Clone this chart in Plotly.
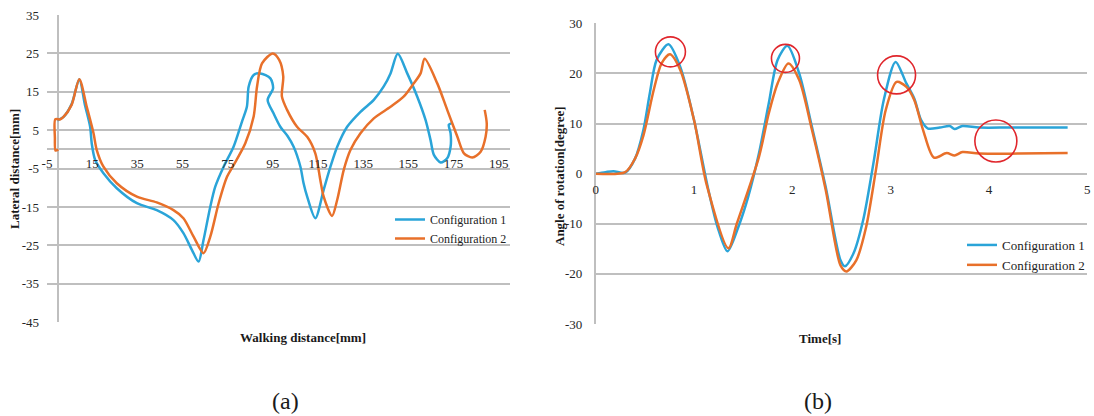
import plotly.graph_objects as go

W, H = 1094, 416

# ---- Panel (a): lateral distance vs walking distance ----
walk_c1 = [-0.4, 2.2, 5.9, 9.3, 11.8, 14.1, 14.8, 16.3, 20.0, 25.9, 34.8, 43.6, 51.0, 55.4,
           59.2, 62.1, 64.3, 67.3, 69.5, 73.2, 77.6, 81.3, 83.5, 84.3, 86.5, 89.4, 93.9, 95.1,
           92.7, 95.3, 98.3, 101.5, 104.2, 107.2, 108.6, 110.2, 113.8, 117.5, 120.5, 123.5,
           127.9, 133.8, 139.7, 144.1, 147.1, 150.3, 154.5, 158.9, 162.6, 164.8, 166.3, 169.3,
           172.2, 173.7, 173.7, 172.9, 174.0]
lat_c1 = [7.6, 8.4, 11.8, 18.3, 11.6, 5.9, 1.6, -2.7, -6.2, -10.1, -14.0, -15.8, -18.4, -21.8,
          -26.2, -29.2, -23.6, -14.9, -9.7, -4.5, 0.7, 7.2, 11.1, 16.4, 19.4, 19.8, 18.5, 15.9,
          12.9, 9.4, 5.9, 3.5, 0.7, -4.5, -8.8, -12.3, -17.9, -10.5, -4.5, 0.7,
          5.9, 9.8, 12.9, 16.4, 19.8, 24.9, 19.8, 13.8, 7.7, 2.5, -1.4, -3.4,
          -2.3, 0.7, 4.2, 6.4, 6.8]

walk_c2 = [0.0, -1.2, -1.5, -1.3, 0.7, 2.2, 5.9, 9.3, 12.6, 15.6, 17.0, 20.0, 25.9, 34.8, 43.6,
           51.0, 55.4, 59.9, 64.3, 67.3, 71.0, 74.7, 77.6, 82.8, 86.5, 88.0, 90.2, 95.0, 97.8,
           99.6, 99.0, 101.3, 105.7, 110.2, 113.8, 116.0, 117.5, 121.2, 123.5, 126.4, 129.4,
           133.8, 139.7, 147.1, 153.0, 157.4, 160.4, 162.2, 167.8, 172.2, 176.7, 179.6, 183.3,
           187.0, 189.2, 189.7, 188.8]
lat_c2 = [0.0, -0.3, 3.0, 7.9, 7.8, 8.4, 11.6, 18.3, 11.1, 4.2, -0.1, -4.5, -8.8, -12.3, -13.8,
          -15.8, -17.9, -22.7, -27.0, -22.7, -14.0, -7.1, -4.1, 1.6, 8.6, 16.4, 22.4, 25.0, 23.3,
          19.0, 13.8, 10.3, 5.9, 3.3, -1.0, -7.9, -12.3, -17.3, -13.1, -5.3, -0.1,
          4.2, 8.1, 11.1, 13.8, 17.2, 19.8, 23.6, 17.2, 10.3, 3.3, -1.0, -2.1,
          -0.6, 3.3, 6.8, 10.3]

walk_range = [-5, 200]
walk_ticks = [-5, 15, 35, 55, 75, 95, 115, 135, 155, 175, 195]
lat_range = [-45, 35]
lat_ticks = [-45, -35, -25, -15, -5, 5, 15, 25, 35]

# ---- Panel (b): angle of rotation vs time ----
time_c1 = [0, 0.10, 0.18, 0.30, 0.40, 0.485, 0.55, 0.62, 0.74, 0.86, 1.0, 1.14, 1.24, 1.34,
           1.45, 1.55, 1.66, 1.76, 1.85, 1.95, 2.07, 2.20, 2.34, 2.49, 2.535, 2.62, 2.72, 2.83,
           2.93, 3.05, 3.16, 3.24, 3.31, 3.38, 3.50, 3.60, 3.65, 3.73, 3.90, 4.2, 4.5, 4.80]
angle_c1 = [0, 0.3, 0.5, 0.2, 3.0, 8.7, 16.0, 22.7, 25.8, 21.3, 10.7, -2.7, -10.7, -15.5,
            -10.7, -4.7, 4.0, 14.0, 22.7, 25.5, 20.0, 9.3, -2.7, -17.3, -18.5, -16.0, -9.3, 2.7,
            14.7, 22.3, 18.0, 15.0, 10.7, 9.0, 9.2, 9.5, 8.9, 9.5, 9.2, 9.2, 9.2, 9.2]

time_c2 = [0, 0.30, 0.40, 0.485, 0.59, 0.67, 0.755, 0.86, 1.0, 1.13, 1.35, 1.435, 1.66, 1.76,
           1.85, 1.96, 2.07, 2.20, 2.34, 2.49, 2.55, 2.65, 2.75, 2.85, 2.95, 3.06, 3.16, 3.24,
           3.33, 3.44, 3.57, 3.65, 3.73, 3.90, 4.3, 4.80]
angle_c2 = [0, 0.3, 3.0, 7.6, 16.7, 22.0, 23.8, 20.7, 10.7, -2.3, -14.9, -10.0, 3.3, 12.0,
            18.0, 22.0, 18.7, 8.7, -3.3, -18.3, -19.5, -17.3, -10.7, 0.7, 12.7, 18.3, 17.3, 14.7,
            8.7, 3.2, 4.1, 3.6, 4.3, 4.0, 4.0, 4.1]

time_range = [0, 5]
time_ticks = [0, 1, 2, 3, 4, 5]
angle_range = [-30, 30]
angle_ticks = [-30, -20, -10, 0, 10, 20, 30]

# highlighted regions on panel (b): centre (time, angle) and radius in pixels
ring_t = [0.76, 1.93, 3.06, 4.07]
ring_angle = [24.3, 23.0, 19.7, 6.5]
ring_r_px = [15, 14, 19, 21]

series_names = ["Configuration 1", "Configuration 2"]
colors = ["#2AA4D8", "#E8702A"]

FONT = "Liberation Serif"
GRID = "#BFBFBF"

# plot areas in pixels (left, top, right, bottom)
A = (47, 15, 510, 322.3)
B = (595.7, 23.3, 1087.3, 324)


def dom(box):
    l, t, r, b = box
    return [l / W, r / W], [1 - b / H, 1 - t / H]


ax_dom_x, ax_dom_y = dom(A)
bx_dom_x, bx_dom_y = dom(B)


def zero_pos(dy, rng):
    return dy[0] + (0 - rng[0]) / (rng[1] - rng[0]) * (dy[1] - dy[0])


def labels(vals):
    # plain hyphen-minus for negative numbers
    return [str(v) for v in vals]


fig = go.Figure()
for xs, ys, name, c in [(walk_c1, lat_c1, series_names[0], colors[0]),
                        (walk_c2, lat_c2, series_names[1], colors[1])]:
    fig.add_trace(go.Scatter(x=xs, y=ys, mode="lines", name=name,
                             line=dict(color=c, width=2.5, shape="spline", smoothing=0.8),
                             xaxis="x", yaxis="y", legend="legend"))
for xs, ys, name, c in [(time_c1, angle_c1, series_names[0], colors[0]),
                        (time_c2, angle_c2, series_names[1], colors[1])]:
    fig.add_trace(go.Scatter(x=xs, y=ys, mode="lines", name=name,
                             line=dict(color=c, width=2.5, shape="spline", smoothing=0.8),
                             xaxis="x2", yaxis="y2", legend="legend2"))

tickfont = dict(family=FONT, size=13, color="#262626")

fig.update_layout(
    template="none",
    width=W, height=H, margin=dict(l=0, r=0, t=0, b=0, pad=0),
    paper_bgcolor="white", plot_bgcolor="white",
    font=dict(family=FONT, color="#222222"),
    showlegend=True,
    xaxis=dict(domain=ax_dom_x, range=walk_range, tickmode="array", tickvals=walk_ticks,
               ticktext=labels(walk_ticks),
               showgrid=False, zeroline=True, zerolinecolor=GRID, zerolinewidth=1.5,
               showline=False, anchor="free", position=zero_pos(ax_dom_y, lat_range),
               ticks="", ticklabelstandoff=5, tickfont=tickfont, automargin=False),
    yaxis=dict(domain=ax_dom_y, range=lat_range, tickmode="array", tickvals=lat_ticks,
               ticktext=labels(lat_ticks),
               showgrid=True, gridcolor=GRID, gridwidth=1.5,
               zeroline=True, zerolinecolor=GRID, zerolinewidth=1.5,
               showline=False, anchor="x", ticks="", ticklabelstandoff=7,
               tickfont=tickfont, automargin=False),
    xaxis2=dict(domain=bx_dom_x, range=time_range, tickmode="array", tickvals=time_ticks,
                ticktext=labels(time_ticks),
                showgrid=False, zeroline=False, showline=False,
                anchor="free", position=zero_pos(bx_dom_y, angle_range),
                ticks="", ticklabelstandoff=6, tickfont=tickfont, automargin=False),
    yaxis2=dict(domain=bx_dom_y, range=angle_range, tickmode="array", tickvals=angle_ticks,
                ticktext=labels(angle_ticks),
                showgrid=True, gridcolor=GRID, gridwidth=1.5,
                zeroline=True, zerolinecolor=GRID, zerolinewidth=1.5,
                showline=True, linecolor=GRID, linewidth=1.5,
                anchor="x2", ticks="", ticklabelstandoff=9, tickfont=tickfont,
                automargin=False),
    legend=dict(x=512 / W, y=1 - 205 / H, xanchor="right", yanchor="top",
                bgcolor="rgba(0,0,0,0)", font=dict(family=FONT, size=12, color="#222222"),
                itemwidth=30, tracegroupgap=0),
    legend2=dict(x=1090 / W, y=1 - 230 / H, xanchor="right", yanchor="top",
                 bgcolor="rgba(0,0,0,0)", font=dict(family=FONT, size=13, color="#222222"),
                 itemwidth=30, tracegroupgap=0),
)

# red highlight rings on panel (b)
px_per_t = (B[2] - B[0]) / (time_range[1] - time_range[0])
px_per_a = (B[3] - B[1]) / (angle_range[1] - angle_range[0])
for t, a, r in zip(ring_t, ring_angle, ring_r_px):
    fig.add_shape(type="circle", xref="x2", yref="y2",
                  x0=t - r / px_per_t, x1=t + r / px_per_t,
                  y0=a - r / px_per_a, y1=a + r / px_per_a,
                  line=dict(color="#E0262C", width=1.6))

titlefont = dict(family=FONT, size=13, color="#1a1a1a")
texts = [
    ("<b>Lateral distance[mm]</b>", 14, 169, -90, titlefont),
    ("<b>Walking distance[mm]</b>", 303, 337, 0, titlefont),
    ("<b>Angle of rotation[degree]</b>", 559, 176, -90, titlefont),
    ("<b>Time[s]</b>", 820, 338, 0, titlefont),
    ("(a)", 285, 401, 0, dict(family=FONT, size=24, color="#1a1a1a")),
    ("(b)", 818, 401, 0, dict(family=FONT, size=24, color="#1a1a1a")),
]
for txt, px, py, ang, f in texts:
    fig.add_annotation(text=txt, x=px / W, y=1 - py / H, xref="paper", yref="paper",
                       showarrow=False, textangle=ang, font=f,
                       xanchor="center", yanchor="middle")

fig.write_html("out.html")
